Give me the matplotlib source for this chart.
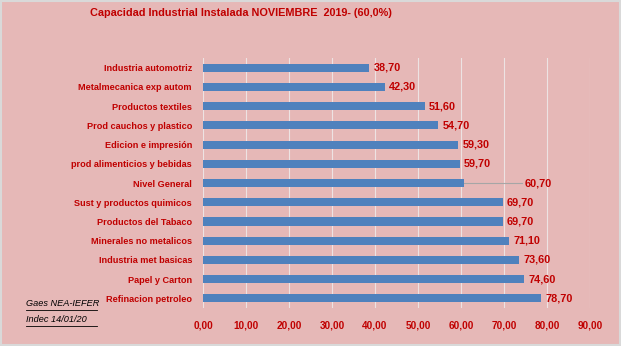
import matplotlib.pyplot as plt

categories = ['Industria automotriz', 'Metalmecanica exp autom', 'Productos textiles',
              'Prod cauchos y plastico', 'Edicion e impresión', 'prod alimenticios y bebidas',
              'Nivel General', 'Sust y productos quimicos', 'Productos del Tabaco',
              'Minerales no metalicos', 'Industria met basicas', 'Papel y Carton',
              'Refinacion petroleo']
values = [38.70, 42.30, 51.60, 54.70, 59.30, 59.70, 60.70, 69.70, 69.70,
          71.10, 73.60, 74.60, 78.70]
xticks = [0, 10, 20, 30, 40, 50, 60, 70, 80, 90]

BG = '#E6B8B7'
RED = '#C00000'
BLUE = '#4F81BD'
plt.rcParams['font.family'] = ['Liberation Sans', 'DejaVu Sans']


def fmt(v):
    return f'{v:.2f}'.replace('.', ',')


fig = plt.figure(figsize=(6.21, 3.46), dpi=100, facecolor=BG)
ax = fig.add_axes([203 / 621, 1 - 308 / 346, 387 / 621, 250 / 346])
ax.set_facecolor(BG)

y = list(range(len(categories)))
ax.barh(y, values, height=0.42, color=BLUE, zorder=3)
ax.set_ylim(len(categories) - 0.5, -0.5)
ax.set_xlim(0, 90)
ax.set_xticks(xticks)
ax.set_xticklabels([fmt(t) for t in xticks], color=RED, fontsize=7.2, fontweight='bold')
ax.set_yticks(y)
ax.set_yticklabels(categories, color=RED, fontsize=6.6, fontweight='bold')
ax.tick_params(length=0)
ax.tick_params(axis='y', pad=8)
ax.tick_params(axis='x', pad=9)
ax.grid(axis='x', color='#EDE3E3', linewidth=0.8, zorder=0)
for s in ax.spines.values():
    s.set_visible(False)

for i, v in enumerate(values):
    if categories[i] == 'Nivel General':
        ax.plot([v, v + 13.5], [i, i], color='#A6A6A6', linewidth=0.8, zorder=2)
        ax.text(v + 14, i, fmt(v), va='center', ha='left', color=RED,
                fontsize=7.8, fontweight='bold')
    else:
        ax.text(v + 1, i, fmt(v), va='center', ha='left', color=RED,
                fontsize=7.8, fontweight='bold')

fig.text(90 / 621, 1 - 13 / 346, 'Capacidad Industrial Instalada NOVIEMBRE  2019- (60,0%)',
         color=RED, fontsize=7.8, fontweight='bold', va='center', ha='left')
fig.text(26 / 621, 1 - 304 / 346, 'Gaes NEA-IEFER', fontsize=6.6, style='italic',
         va='center', ha='left')
fig.text(26 / 621, 1 - 320 / 346, 'Indec 14/01/20', fontsize=6.6, style='italic',
         va='center', ha='left')
fig.add_artist(plt.Line2D([26 / 621, 97 / 621], [1 - 310 / 346, 1 - 310 / 346],
                          transform=fig.transFigure, color='black', linewidth=0.6))
fig.add_artist(plt.Line2D([26 / 621, 97 / 621], [1 - 326 / 346, 1 - 326 / 346],
                          transform=fig.transFigure, color='black', linewidth=0.6))
fig.add_artist(plt.Rectangle((0.002, 0.003), 0.996, 0.994, transform=fig.transFigure,
                             fill=False, edgecolor='#D9D9D9', linewidth=1.5))

fig.savefig('out.png', dpi=100, facecolor=BG)
